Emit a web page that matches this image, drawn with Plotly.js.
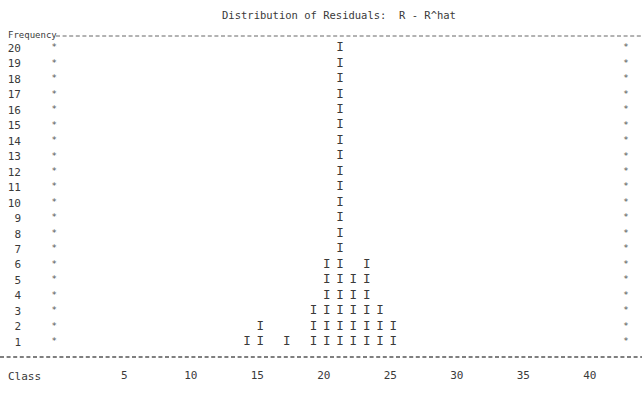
<!DOCTYPE html>
<html>
<head>
<meta charset="utf-8">
<script src="https://cdn.plot.ly/plotly-3.0.1.min.js"></script>
<style>html,body{margin:0;padding:0;background:#fff;}#chart{width:642px;height:414px;}</style>
</head>
<body>
<div id="chart"></div>
<script>
// ---- data ----
const chartTitle = "Distribution of Residuals:  R - R^hat";
const yHeader = "Frequency";
const xHeader = "Class";
const classes = [14, 15, 17, 19, 20, 21, 22, 23, 24, 25];
const frequencies = [1, 2, 1, 3, 6, 20, 5, 6, 3, 2];
const yTickValues = [1, 2, 3, 4, 5, 6, 7, 8, 9, 10, 11, 12, 13, 14, 15, 16, 17, 18, 19, 20];
const xTickValues = [5, 10, 15, 20, 25, 30, 35, 40];

// ---- build ASCII-style stacked marks ----
const barX = [], barY = [], barT = [];
classes.forEach((c, i) => {
  for (let k = 1; k <= frequencies[i]; k++) { barX.push(c); barY.push(k); barT.push("I"); }
});
const leftBorder = -0.5, rightBorder = 42.5;
const starX = [], starY = [], starT = [];
yTickValues.forEach(v => {
  starX.push(leftBorder); starY.push(v); starT.push("*");
  starX.push(rightBorder); starY.push(v); starT.push("*");
});

const mono = "DejaVu Sans Mono, Liberation Mono, monospace";
const ink = "#3a3a3a";

const traces = [
  { type: "scatter", mode: "text", x: barX, y: barY, text: barT,
    textposition: "middle center", textfont: { family: mono, size: 12.5, color: ink },
    hoverinfo: "skip", showlegend: false, cliponaxis: false },
  { type: "scatter", mode: "text", x: starX, y: starY, text: starT,
    textposition: "middle center", textfont: { family: mono, size: 9, color: "#555" },
    hoverinfo: "skip", showlegend: false, cliponaxis: false }
];

const L = 22, T = 28, B = 57, W = 642, H = 414;
const plotW = W - L, plotH = H - T - B;
const px = p => (p - L) / plotW;            // pixel x -> paper
const py = p => (H - B - p) / plotH;        // pixel y -> paper

const layout = {
  width: W, height: H,
  margin: { l: L, r: 0, t: T, b: B, pad: 0 },
  paper_bgcolor: "#fff", plot_bgcolor: "#fff",
  font: { family: mono, color: ink },
  title: { text: chartTitle, font: { family: mono, size: 10.5, color: ink },
           x: 339 / W, xref: "container", xanchor: "center", y: 1 - 15 / H, yref: "container", yanchor: "middle" },
  xaxis: { range: [-2.917, 43.70], showgrid: false, zeroline: false, showline: false, ticks: "",
           tickmode: "array", tickvals: xTickValues, ticktext: xTickValues.map(String),
           tickfont: { family: mono, size: 11, color: ink }, ticklabelstandoff: 10, ticklabelshift: -3, fixedrange: true },
  yaxis: { range: [0.0306, 21.29], showgrid: false, zeroline: false, showline: false, ticks: "",
           tickmode: "array", tickvals: yTickValues, ticktext: yTickValues.map(String),
           tickfont: { family: mono, size: 11, color: ink }, fixedrange: true },
  annotations: [
    { text: yHeader, xref: "paper", yref: "paper", x: px(6), y: py(35), xanchor: "left", yanchor: "middle",
      showarrow: false, font: { family: mono, size: 9, color: ink } },
    { text: xHeader, xref: "paper", yref: "paper", x: px(6), y: py(377), xanchor: "left", yanchor: "middle",
      showarrow: false, font: { family: mono, size: 11, color: ink } }
  ],
  shapes: [
    { type: "line", xref: "paper", yref: "paper", x0: px(56), x1: 1, y0: py(36), y1: py(36),
      line: { color: "#666", width: 1, dash: "4px,2.6px" } },
    { type: "line", xref: "paper", yref: "paper", x0: px(0), x1: 1, y0: py(357), y1: py(357),
      line: { color: "#555", width: 1.5, dash: "4px,2.6px" } }
  ]
};

Plotly.newPlot("chart", traces, layout, { staticPlot: true, displayModeBar: false });
</script>
</body>
</html>
